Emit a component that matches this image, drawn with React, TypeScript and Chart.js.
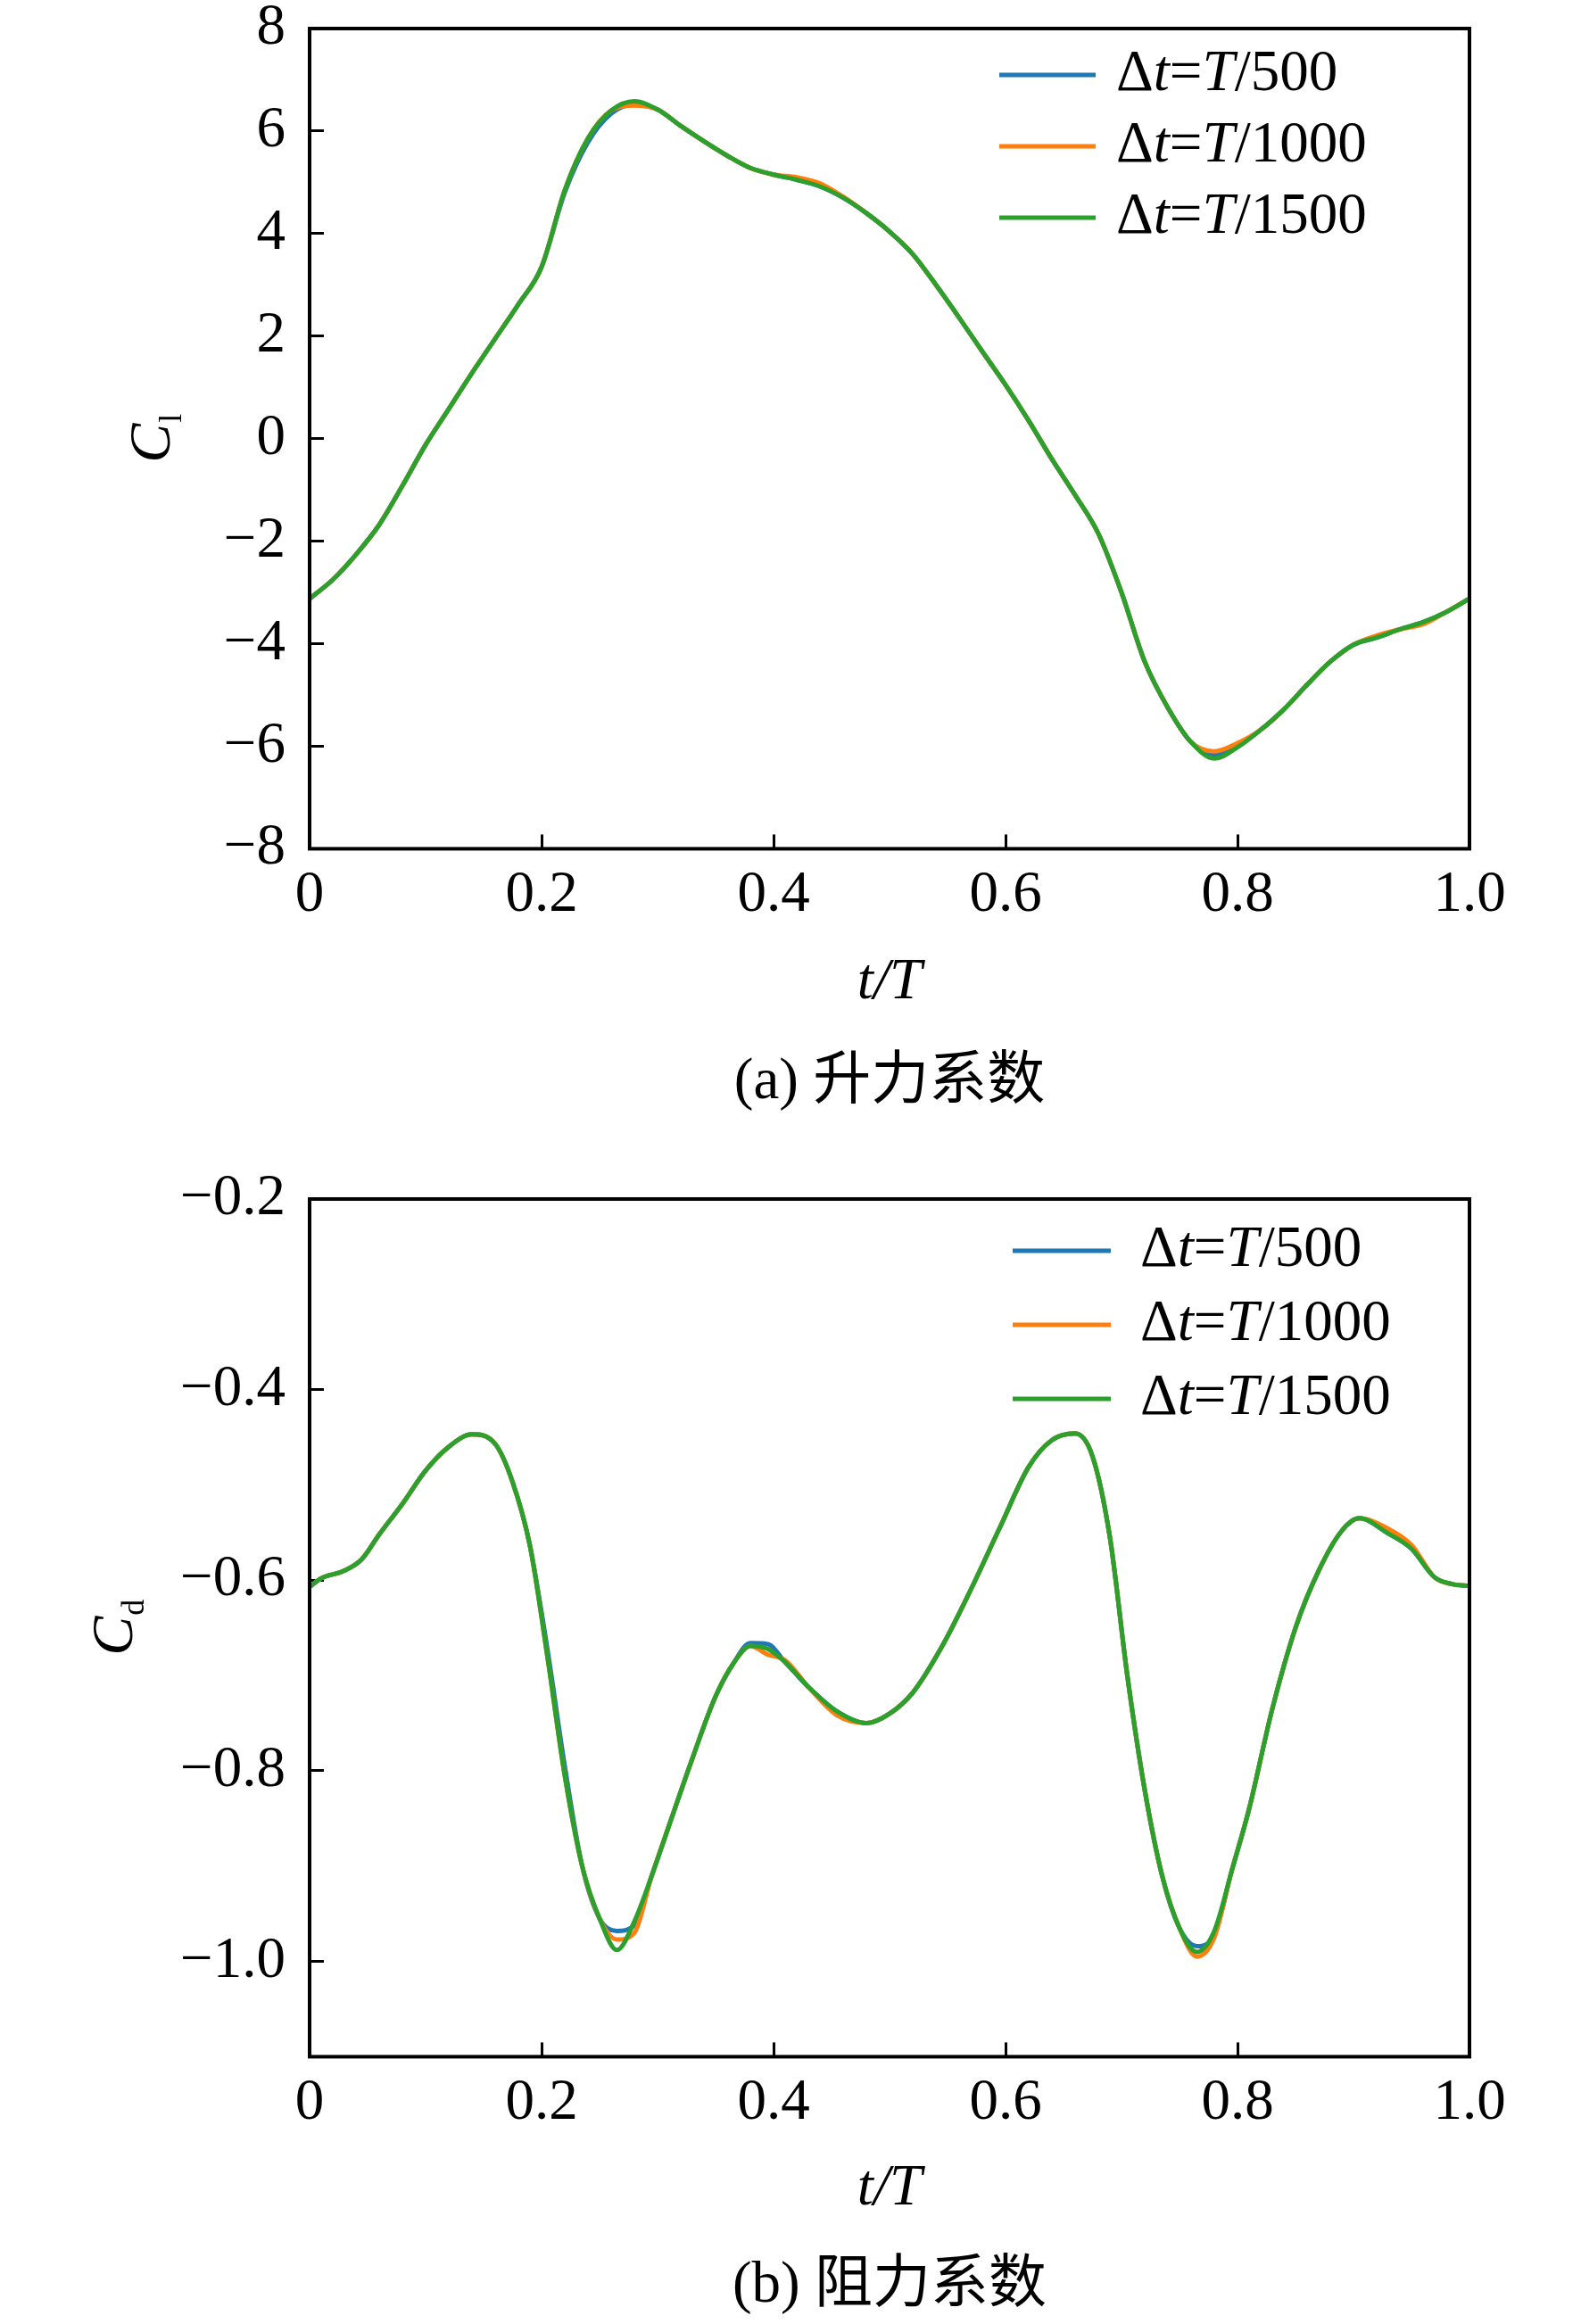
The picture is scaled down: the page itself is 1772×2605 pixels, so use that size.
import { useEffect, useRef } from "react";
import { Chart, registerables } from "chart.js";

Chart.register(...registerables);

const SERIF = '"Liberation Serif", "Times New Roman", serif';
const CAPTION_FONT = '"Liberation Serif", "Noto Sans CJK SC", serif';

// legend / series
const seriesLabels = ["Δt=T/500", "Δt=T/1000", "Δt=T/1500"];
const seriesColors = ["#1f77b4", "#ff7f0e", "#2ca02c"];

// tick values
const tTicks = [0, 0.2, 0.4, 0.6, 0.8, 1.0];
const liftTicks = [-8, -6, -4, -2, 0, 2, 4, 6, 8];
const dragTicks = [-1.0, -0.8, -0.6, -0.4, -0.2];

// (a) lift coefficient, t/T
const tLift = [
    0, 0.02, 0.04, 0.06, 0.08, 0.1, 0.12, 0.14, 0.16, 0.18,
    0.2, 0.22, 0.24, 0.26, 0.28, 0.3, 0.32, 0.34, 0.36, 0.38,
    0.4, 0.42, 0.44, 0.46, 0.48, 0.5, 0.52, 0.54, 0.56, 0.58,
    0.6, 0.62, 0.64, 0.66, 0.68, 0.7, 0.72, 0.74, 0.76, 0.78,
    0.8, 0.82, 0.84, 0.86, 0.88, 0.9, 0.92, 0.94, 0.96, 0.98, 1.0,
];
const liftT500 = [
    -3.12, -2.75, -2.26, -1.68, -0.92, -0.12, 0.58, 1.28, 1.95, 2.62,
    3.35, 4.8, 5.78, 6.34, 6.52, 6.42, 6.1, 5.8, 5.52, 5.28,
    5.15, 5.05, 4.92, 4.7, 4.4, 4.04, 3.6, 3.0, 2.36, 1.7,
    1.05, 0.35, -0.4, -1.1, -1.85, -3.0, -4.35, -5.25, -5.92, -6.16,
    -5.98, -5.68, -5.28, -4.8, -4.35, -4.02, -3.88, -3.72, -3.58, -3.38, -3.12,
];
const liftT1000 = [
    -3.12, -2.75, -2.26, -1.68, -0.92, -0.12, 0.58, 1.28, 1.95, 2.62,
    3.35, 4.85, 5.86, 6.4, 6.5, 6.42, 6.1, 5.8, 5.52, 5.28,
    5.15, 5.1, 4.98, 4.72, 4.4, 4.04, 3.6, 3.0, 2.36, 1.7,
    1.05, 0.35, -0.4, -1.1, -1.85, -3.0, -4.35, -5.25, -5.92, -6.1,
    -5.94, -5.68, -5.28, -4.8, -4.35, -4.02, -3.84, -3.72, -3.62, -3.38, -3.12,
];
const liftT1500 = [
    -3.12, -2.75, -2.26, -1.68, -0.92, -0.12, 0.58, 1.28, 1.95, 2.62,
    3.35, 4.85, 5.86, 6.4, 6.58, 6.42, 6.1, 5.8, 5.52, 5.28,
    5.15, 5.05, 4.92, 4.7, 4.4, 4.04, 3.6, 3.0, 2.36, 1.7,
    1.05, 0.35, -0.4, -1.1, -1.85, -3.0, -4.35, -5.25, -5.92, -6.24,
    -6.02, -5.68, -5.28, -4.8, -4.35, -4.02, -3.88, -3.72, -3.58, -3.38, -3.12,
];

// (b) drag coefficient, t/T
const tDrag = [
    0, 0.01, 0.03, 0.045, 0.06, 0.08, 0.1, 0.12, 0.14, 0.16,
    0.175, 0.19, 0.205, 0.22, 0.235, 0.25, 0.265, 0.28, 0.295, 0.31,
    0.33, 0.35, 0.365, 0.38, 0.395, 0.41, 0.43, 0.455, 0.48, 0.5,
    0.52, 0.545, 0.57, 0.595, 0.62, 0.64, 0.66, 0.675, 0.69, 0.705,
    0.72, 0.735, 0.75, 0.765, 0.78, 0.795, 0.81, 0.83, 0.85, 0.87,
    0.89, 0.905, 0.93, 0.95, 0.97, 0.985, 1.0,
];
const dragT500 = [
    -0.607, -0.598, -0.59, -0.578, -0.552, -0.52, -0.485, -0.46, -0.447, -0.457,
    -0.497, -0.564, -0.672, -0.795, -0.9, -0.955, -0.968, -0.962, -0.91, -0.857,
    -0.787, -0.722, -0.688, -0.666, -0.667, -0.686, -0.712, -0.738, -0.75, -0.74,
    -0.718, -0.67, -0.61, -0.545, -0.481, -0.453, -0.446, -0.47, -0.555, -0.7,
    -0.82, -0.91, -0.965, -0.984, -0.972, -0.905, -0.84, -0.735, -0.65, -0.59,
    -0.548, -0.535, -0.551, -0.567, -0.597, -0.604, -0.606,
];
const dragT1000 = [
    -0.607, -0.598, -0.59, -0.578, -0.552, -0.52, -0.485, -0.46, -0.447, -0.457,
    -0.497, -0.564, -0.68, -0.805, -0.9, -0.955, -0.977, -0.97, -0.91, -0.857,
    -0.787, -0.722, -0.688, -0.669, -0.678, -0.684, -0.712, -0.742, -0.75, -0.74,
    -0.718, -0.67, -0.61, -0.545, -0.481, -0.453, -0.446, -0.47, -0.555, -0.7,
    -0.82, -0.91, -0.965, -0.995, -0.975, -0.905, -0.84, -0.735, -0.65, -0.59,
    -0.548, -0.535, -0.546, -0.563, -0.597, -0.604, -0.606,
];
const dragT1500 = [
    -0.607, -0.598, -0.59, -0.578, -0.552, -0.52, -0.485, -0.46, -0.447, -0.457,
    -0.497, -0.564, -0.68, -0.805, -0.9, -0.955, -0.988, -0.958, -0.91, -0.857,
    -0.787, -0.722, -0.688, -0.669, -0.672, -0.686, -0.712, -0.738, -0.75, -0.74,
    -0.718, -0.67, -0.61, -0.545, -0.481, -0.453, -0.446, -0.47, -0.555, -0.7,
    -0.82, -0.91, -0.965, -0.99, -0.968, -0.905, -0.84, -0.735, -0.65, -0.59,
    -0.548, -0.535, -0.551, -0.567, -0.597, -0.604, -0.606,
];

const minus = (s: string) => s.replace("-", "\u2212");

// text with latin letters in italic, the rest upright
function drawRich(ctx: CanvasRenderingContext2D, text: string, x: number, y: number, size: number) {
    const parts: { s: string; it: boolean }[] = [];
    for (const ch of text) {
        const it = /[A-Za-z]/.test(ch);
        const last = parts[parts.length - 1];
        if (last && last.it === it) last.s += ch;
        else parts.push({ s: ch, it });
    }
    let cx = x;
    for (const p of parts) {
        ctx.font = `${p.it ? "italic " : ""}${size}px ${SERIF}`;
        ctx.fillText(p.s, cx, y);
        cx += ctx.measureText(p.s).width;
    }
}

interface Panel {
    t: number[];
    series: number[][];
    yMin: number;
    yMax: number;
    yTicks: number[];
    yFmt: (v: number) => string;
    caption: string;
    yMain: string;
    ySub: string;
    // layout (pixels inside the canvas)
    canvasH: number;
    padTop: number;
    axisH: number;
    xTitlePad: number;
    captionPad: number;
    legend: { x1: number; x2: number; tx: number; rows: number[] };
    yTitleX: number;
}

function buildConfig(p: Panel) {
    const framePlugin = {
        id: "frame",
        afterDatasetsDraw(chart: any) {
            const { ctx, chartArea: a } = chart;
            ctx.save();
            ctx.strokeStyle = "#000";
            ctx.lineWidth = 4;
            ctx.strokeRect(a.left, a.top, a.right - a.left, a.bottom - a.top);
            ctx.restore();
        },
    };
    const legendPlugin = {
        id: "richLegend",
        afterDraw(chart: any) {
            const ctx = chart.ctx as CanvasRenderingContext2D;
            ctx.save();
            chart.data.datasets.forEach((ds: any, i: number) => {
                const y = p.legend.rows[i];
                ctx.strokeStyle = ds.borderColor;
                ctx.lineWidth = 5;
                ctx.beginPath();
                ctx.moveTo(p.legend.x1, y);
                ctx.lineTo(p.legend.x2, y);
                ctx.stroke();
                ctx.fillStyle = "#000";
                ctx.textBaseline = "middle";
                ctx.textAlign = "left";
                drawRich(ctx, ds.label, p.legend.tx, y, 65);
            });
            ctx.restore();
        },
    };
    const yTitlePlugin = {
        id: "yTitle",
        afterDraw(chart: any) {
            const ctx = chart.ctx as CanvasRenderingContext2D;
            const a = chart.chartArea;
            const f1 = `italic 66px ${SERIF}`;
            const f2 = `36px ${SERIF}`;
            ctx.save();
            ctx.fillStyle = "#000";
            ctx.textBaseline = "alphabetic";
            ctx.textAlign = "left";
            ctx.font = f1;
            const w1 = ctx.measureText(p.yMain).width;
            ctx.font = f2;
            const w2 = ctx.measureText(p.ySub).width;
            ctx.translate(p.yTitleX, (a.top + a.bottom) / 2);
            ctx.rotate(-Math.PI / 2);
            const x0 = -(w1 + w2) / 2;
            ctx.font = f1;
            ctx.fillText(p.yMain, x0, 0);
            ctx.font = f2;
            ctx.fillText(p.ySub, x0 + w1 + 1, 13);
            ctx.restore();
        },
    };

    const datasets = p.series.map((vals, i) => ({
        label: seriesLabels[i],
        data: p.t.map((t, j) => ({ x: t, y: vals[j] })),
        borderColor: seriesColors[i],
        backgroundColor: seriesColors[i],
        borderWidth: 5,
        pointRadius: 0,
        fill: false,
        cubicInterpolationMode: "monotone",
        order: p.series.length - 1 - i,
    }));

    const tickFont = { family: SERIF, size: 65 };

    return {
        type: "line",
        data: { datasets },
        options: {
            responsive: false,
            maintainAspectRatio: false,
            animation: false,
            events: [],
            layout: { padding: { top: p.padTop, right: 125, bottom: 0, left: 0 } },
            scales: {
                x: {
                    type: "linear",
                    min: 0,
                    max: 1,
                    afterBuildTicks: (s: any) => {
                        s.ticks = tTicks.map((v) => ({ value: v }));
                    },
                    afterFit: (s: any) => {
                        s.height = p.axisH;
                        s.paddingLeft = 0;
                        s.paddingRight = 0;
                    },
                    border: { display: false },
                    grid: { drawOnChartArea: false, drawTicks: true, tickLength: -16, color: "#000", lineWidth: 3 },
                    ticks: {
                        color: "#000",
                        font: tickFont,
                        padding: 30,
                        autoSkip: false,
                        maxRotation: 0,
                        callback: (v: number) => (v === 0 ? "0" : v.toFixed(1)),
                    },
                    title: {
                        display: true,
                        text: "t/T",
                        color: "#000",
                        font: { family: SERIF, size: 65, style: "italic" },
                        padding: { top: 0, bottom: p.xTitlePad },
                    },
                },
                y: {
                    type: "linear",
                    min: p.yMin,
                    max: p.yMax,
                    afterBuildTicks: (s: any) => {
                        s.ticks = p.yTicks.map((v) => ({ value: v }));
                    },
                    afterFit: (s: any) => {
                        s.width = 347;
                        s.paddingTop = 0;
                        s.paddingBottom = 0;
                    },
                    border: { display: false },
                    grid: { drawOnChartArea: false, drawTicks: true, tickLength: -16, color: "#000", lineWidth: 3 },
                    ticks: {
                        color: "#000",
                        font: tickFont,
                        padding: 43,
                        autoSkip: false,
                        callback: (v: number) => p.yFmt(v),
                    },
                },
            },
            plugins: {
                legend: { display: false },
                tooltip: { enabled: false },
                title: {
                    display: true,
                    position: "bottom",
                    fullSize: false,
                    text: p.caption,
                    color: "#000",
                    font: { family: CAPTION_FONT, size: 65, weight: "normal" },
                    padding: { top: 0, bottom: p.captionPad },
                },
            },
        },
        plugins: [framePlugin, legendPlugin, yTitlePlugin],
    };
}

const liftPanel: Panel = {
    t: tLift,
    series: [liftT500, liftT1000, liftT1500],
    yMin: -8,
    yMax: 8,
    yTicks: liftTicks,
    yFmt: (v) => minus(String(v)),
    caption: "(a) 升力系数",
    yMain: "C",
    ySub: "l",
    canvasH: 1300,
    padTop: 32,
    axisH: 223.6,
    xTitlePad: 34,
    captionPad: 47,
    legend: { x1: 1120, x2: 1228, tx: 1251, rows: [84, 164, 244] },
    yTitleX: 190,
};

const dragPanel: Panel = {
    t: tDrag,
    series: [dragT500, dragT1000, dragT1500],
    yMin: -1.1,
    yMax: -0.2,
    yTicks: dragTicks,
    yFmt: (v) => minus(v.toFixed(1)),
    caption: "(b) 阻力系数",
    yMain: "C",
    ySub: "d",
    canvasH: 1305,
    padTop: 44,
    axisH: 218.6,
    xTitlePad: 31,
    captionPad: 3,
    legend: { x1: 1135, x2: 1245, tx: 1278, rows: [102, 185, 268] },
    yTitleX: 148,
};

const PanelChart = ({ panel, top }: { panel: Panel; top: number }) => {
    const canvasRef = useRef<HTMLCanvasElement>(null);
    const chartRef = useRef<Chart | null>(null);

    useEffect(() => {
        if (!canvasRef.current) return;
        chartRef.current = new Chart(canvasRef.current, buildConfig(panel) as any);
        return () => {
            if (chartRef.current) {
                chartRef.current.destroy();
                chartRef.current = null;
            }
        };
    }, [panel]);

    return (
        <canvas
            ref={canvasRef}
            width={1772}
            height={panel.canvasH}
            style={{ position: "absolute", left: 0, top, width: 1772, height: panel.canvasH }}
        />
    );
};

export default function App() {
    return (
        <div style={{ position: "absolute", left: 0, top: 0, width: 1772, height: 2605, background: "#fff" }}>
            <PanelChart panel={liftPanel} top={0} />
            <PanelChart panel={dragPanel} top={1300} />
        </div>
    );
}
